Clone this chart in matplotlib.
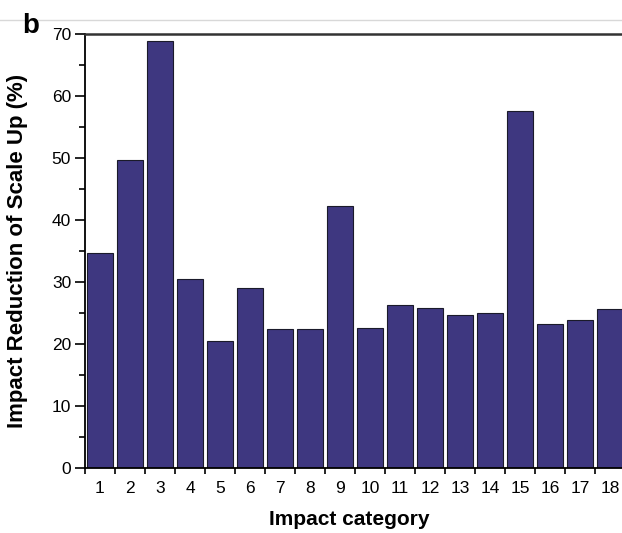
import matplotlib
matplotlib.use("Agg")
import matplotlib.pyplot as plt
from matplotlib.lines import Line2D

plt.rcParams['font.family'] = ['Liberation Sans', 'DejaVu Sans']

categories = list(range(1, 19))
reduction = [34.6, 49.7, 68.8, 30.5, 20.4, 29.0, 22.3, 22.4, 42.3,
             22.5, 26.2, 25.8, 24.6, 24.9, 57.6, 23.2, 23.8, 25.6]

W, H = 622, 533
fig = plt.figure(figsize=(W / 100, H / 100), dpi=100)
# axes runs slightly past the right edge, like the cropped original
ax = fig.add_axes([85 / W, 1 - 467.5 / H, 540 / W, 433.5 / H])

ax.bar(categories, reduction, width=0.84, color='#3e3780',
       edgecolor='#1a1a2a', linewidth=0.8)

ax.set_xlim(0.5, 18.5)
ax.set_ylim(0, 70)

ax.set_xticks(categories)
ax.set_xticks([c + 0.5 for c in [0] + categories], minor=True)
ax.tick_params(axis='x', which='major', length=0, pad=10, labelsize=12.5)
ax.tick_params(axis='x', which='minor', length=4, width=1.2, direction='out')

ax.set_yticks(range(0, 71, 10))
ax.set_yticks(range(5, 70, 10), minor=True)
ax.tick_params(axis='y', which='major', length=7, width=1.2, labelsize=12.5, pad=3)
ax.tick_params(axis='y', which='minor', length=4, width=1.2)

for side in ('left', 'bottom'):
    ax.spines[side].set_linewidth(1.3)
ax.spines['top'].set_linewidth(1.8)
ax.spines['top'].set_color('#333333')
ax.spines['right'].set_visible(False)

ax.set_xlabel('Impact category', fontsize=15, fontweight='bold')
ax.xaxis.set_label_coords((349 - 85) / 540, -(510 - 467.5) / 433.5)
ax.set_ylabel('Impact Reduction of Scale Up (%)', fontsize=16, fontweight='bold')
ax.yaxis.set_label_coords(-(85 - 28) / 540, 0.5)

# thin page rule at the top and panel letter
fig.add_artist(Line2D([0, 1], [1 - 20 / H, 1 - 20 / H], color='#d8d8d8',
                      linewidth=1.0, transform=fig.transFigure))
fig.text(22 / W, 1 - 33 / H, 'b', fontsize=20, fontweight='bold',
         ha='left', va='baseline')

fig.savefig('out.png', dpi=100)
